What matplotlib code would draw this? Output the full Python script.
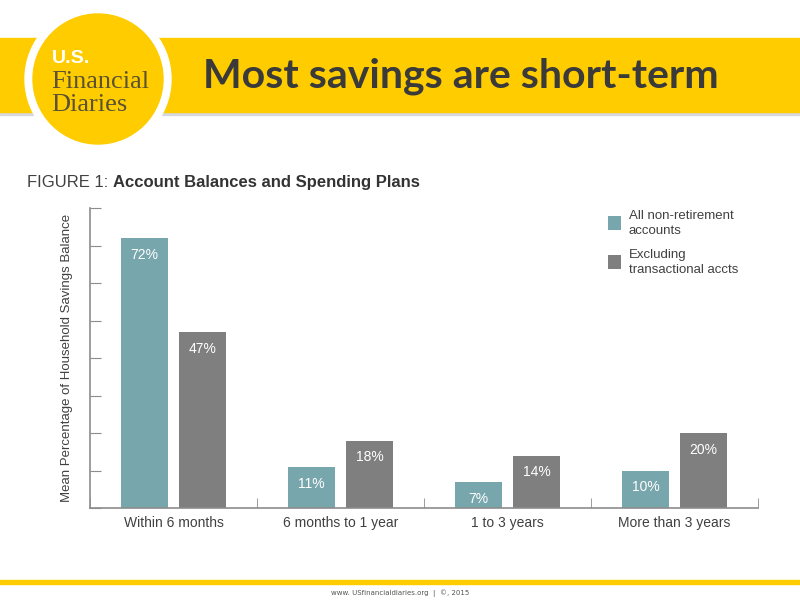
import matplotlib.pyplot as plt
from matplotlib.patches import Rectangle, Circle
import numpy as np

categories = ["Within 6 months", "6 months to 1 year", "1 to 3 years", "More than 3 years"]
all_accounts = [72, 11, 7, 10]
excl_transactional = [47, 18, 14, 20]
series_names = ["All non-retirement\naccounts", "Excluding\ntransactional accts"]

TEAL = "#78a6ad"
GREY = "#7f7f80"
YELLOW = "#ffcc00"
AXIS = "#8c8c8c"
SANS = "Liberation Sans"

fig = plt.figure(figsize=(8, 6), dpi=100)

# banner
fig.patches.append(Rectangle((0, 1 - 115 / 600), 1, 4 / 600, transform=fig.transFigure,
                             color="#d5d8dc", zorder=0))
fig.patches.append(Rectangle((0, 1 - 112 / 600), 1, 74 / 600, transform=fig.transFigure,
                             color=YELLOW, zorder=1))
logo = fig.add_axes([0, 0, 1, 1], zorder=2)
logo.set_xlim(0, 800)
logo.set_ylim(600, 0)
logo.axis("off")
logo.add_patch(Circle((98, 79), 73, color="white"))
logo.add_patch(Circle((98, 79), 65, color=YELLOW))
logo.text(52, 63, "U.S.", color="white", fontsize=14, fontweight="bold",
          family=SANS, va="baseline")
logo.text(51, 88, "Financial", color="#5b5233", fontsize=19, family="Liberation Serif", va="baseline")
logo.text(51, 111, "Diaries", color="#5b5233", fontsize=19, family="Liberation Serif", va="baseline")
logo.text(461, 76, "Most savings are short-term", color="#3a3a3a", fontsize=29.5,
          fontweight="bold", family="Lato", ha="center", va="center")

t1 = fig.text(27 / 800, 1 - 183 / 600, "FIGURE 1: ", color="#404040", fontsize=12,
              family=SANS, va="center")
fig.add_artist(plt.Annotation("Account Balances and Spending Plans", xy=(1, 0.5), xycoords=t1,
                              va="center", ha="left", color="#333333", fontsize=12,
                              fontweight="bold", family=SANS))

# footer
fig.patches.append(Rectangle((0, 1 - 584 / 600), 1, 4 / 600, transform=fig.transFigure,
                             color=YELLOW, zorder=1))
fig.text(0.5, 1 - 593 / 600, "www. USfinancialdiaries.org  |  \u00a9, 2015", color="#555555",
         fontsize=5, ha="center", va="center")

# chart
ax = fig.add_axes([90 / 800, 1 - 508 / 600, 668 / 800, 300 / 600])
x = np.arange(len(categories))
w = 0.28
off = 0.174
b1 = ax.bar(x - off, all_accounts, w, color=TEAL, label=series_names[0])
b2 = ax.bar(x + off, excl_transactional, w, color=GREY, label=series_names[1])
for bars, vals in [(b1, all_accounts), (b2, excl_transactional)]:
    for rect, v in zip(bars, vals):
        ax.text(rect.get_x() + rect.get_width() / 2, v - 4.5, f"{v}%", color="white",
                fontsize=10, ha="center", va="center", family=SANS)

ax.set_xlim(-0.5, 3.5)
ax.set_ylim(0, 80)
ax.set_yticks(np.arange(0, 81, 10))
ax.set_yticklabels([])
ax.set_xticks(x)
ax.set_xticklabels(categories, fontsize=10, color="#404040", family=SANS)
ax.set_xticks(np.arange(-0.5, 3.6, 1), minor=True)
ax.tick_params(axis="x", which="major", length=0, pad=6)
ax.tick_params(axis="x", which="minor", direction="in", length=7, color=AXIS)
ax.tick_params(axis="y", direction="in", length=8, color=AXIS)
for s in ["top", "right"]:
    ax.spines[s].set_visible(False)
for s in ["left", "bottom"]:
    ax.spines[s].set_color(AXIS)
    ax.spines[s].set_linewidth(1.2)
ax.set_ylabel("Mean Percentage of Household Savings Balance", fontsize=9.5, color="#404040",
              family=SANS, labelpad=9)

leg = ax.legend(loc="upper left", bbox_to_anchor=(0.775, 0.995), frameon=False,
                handlelength=1.0, handleheight=1.3, handletextpad=0.6, labelspacing=0.9,
                borderpad=0, borderaxespad=0,
                prop={"family": SANS, "size": 9.5})
for t in leg.get_texts():
    t.set_color("#404040")
    t.set_linespacing(1.35)

fig.savefig("out.png", dpi=100)
